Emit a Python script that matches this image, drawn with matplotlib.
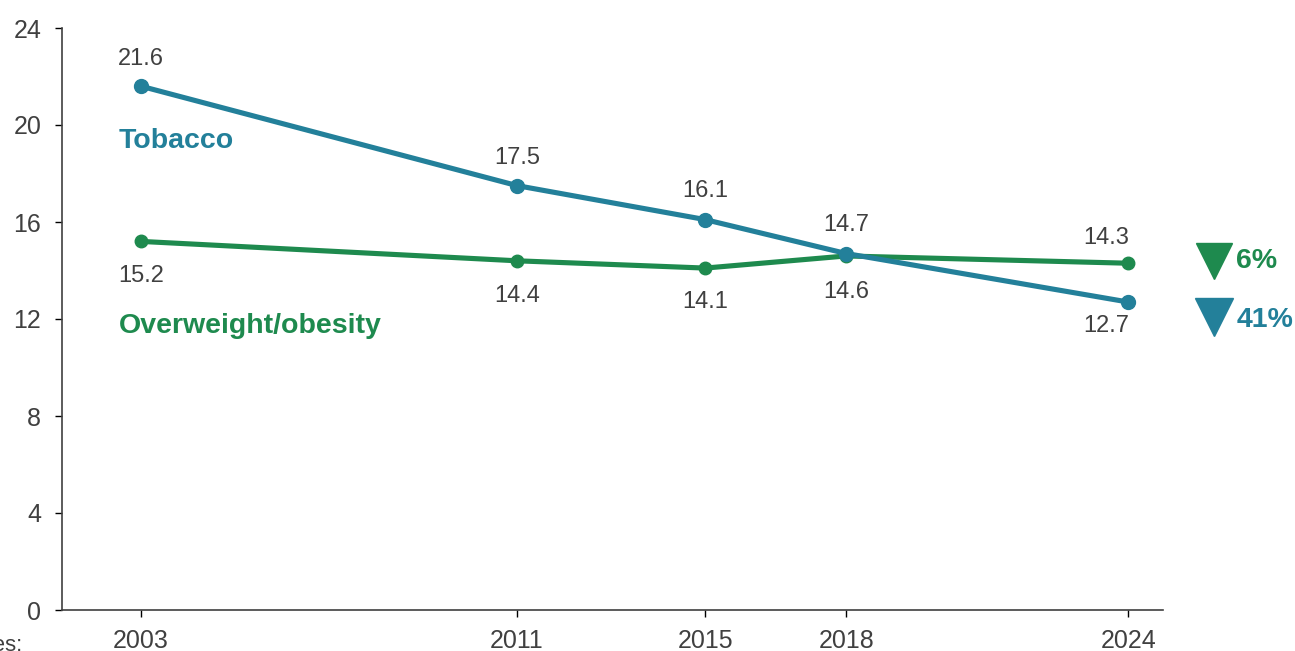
import matplotlib.pyplot as plt

plt.rcParams['font.family'] = ['Liberation Sans', 'DejaVu Sans']

years = [2003, 2011, 2015, 2018, 2024]
tobacco = [21.6, 17.5, 16.1, 14.7, 12.7]
overweight = [15.2, 14.4, 14.1, 14.6, 14.3]
tobacco_change = '41%'
overweight_change = '6%'

teal = '#23809a'
green = '#1e8a4e'
grey = '#404040'

fig = plt.figure(figsize=(12.95, 6.51), dpi=100)
ax = fig.add_axes([62 / 1295, 41 / 651, 1101 / 1295, 582 / 651])

ax.plot(years, overweight, color=green, lw=3.7, marker='o', ms=9, zorder=3)
ax.plot(years, tobacco, color=teal, lw=3.7, marker='o', ms=10, zorder=4)

ax.set_xlim(2001.32, 2024.74)
ax.set_ylim(0, 24)
ax.set_yticks(range(0, 25, 4))
ax.set_xticks(years)
ax.tick_params(axis='both', colors='black', labelcolor=grey, labelsize=18, length=5, width=1)
ax.tick_params(axis='x', pad=9)
ax.tick_params(axis='y', pad=10)
for s in ['top', 'right']:
    ax.spines[s].set_visible(False)
for s in ['left', 'bottom']:
    ax.spines[s].set_color(grey)
    ax.spines[s].set_linewidth(1.2)

# value labels: offset in points above (+) or below (-) each point
tob_off = [19.5, 19.8, 20.9, 20.7, -17.5]
ow_off = [-24.7, -25.3, -24.6, -26, 17.9]
for i, yr in enumerate(years):
    dx = -16 if yr == 2024 else 0
    ax.annotate(f'{tobacco[i]:.1f}', (yr, tobacco[i]), xytext=(dx, tob_off[i]),
                textcoords='offset points', ha='center', va='center',
                fontsize=17, color=grey)
    ax.annotate(f'{overweight[i]:.1f}', (yr, overweight[i]), xytext=(dx, ow_off[i]),
                textcoords='offset points', ha='center', va='center',
                fontsize=17, color=grey)

ax.text(2002.53, 19.36, 'Tobacco', color=teal, fontsize=20.5, fontweight='bold', va='center')
ax.text(2002.53, 11.72, 'Overweight/obesity', color=green, fontsize=20.5, fontweight='bold', va='center')

# change markers at the right edge
ax.plot(2025.83, 14.4, marker='v', ms=26, color=green, clip_on=False)
ax.text(2026.3, 14.4, overweight_change, color=green, fontsize=20.5, fontweight='bold',
        va='center', clip_on=False)
ax.plot(2025.83, 12.1, marker='v', ms=28, color=teal, clip_on=False)
ax.text(2026.3, 11.95, tobacco_change, color=teal, fontsize=20.5, fontweight='bold',
        va='center', clip_on=False)

fig.text(22 / 1295, 1 - 651 / 651, 'Notes:', ha='right', va='baseline', fontsize=16, color=grey)

fig.savefig('out.png', dpi=100)
